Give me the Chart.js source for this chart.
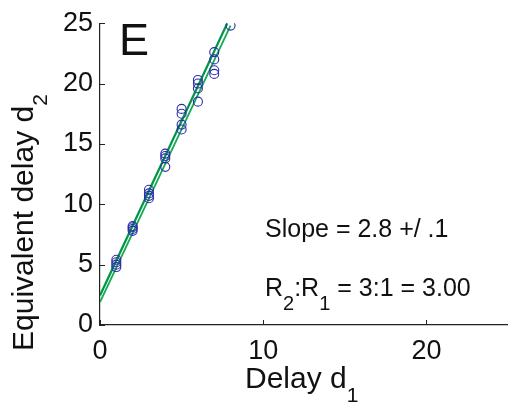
<!DOCTYPE html>
<html>
<head>
<meta charset="utf-8">
<script src="https://cdn.jsdelivr.net/npm/chart.js@4.4.1/dist/chart.umd.min.js"></script>
<style>
  html, body { margin: 0; padding: 0; background: #fff; }
  #wrap { width: 508px; height: 404px; }
</style>
</head>
<body>
<div id="wrap"><canvas id="chart"></canvas></div>
<script>
// measured points (delay d1 -> equivalent delay d2)
const delayD1 = [1, 1, 1, 1, 2, 2, 2, 2, 3, 3, 3, 3, 4, 4, 4, 4, 5, 5, 5, 5, 6, 6, 6, 6, 7, 7, 7, 7, 8];
const equivD2 = [4.8, 5.0, 5.2, 5.4, 7.8, 7.95, 8.1, 8.2, 10.5, 10.7, 10.9, 11.2, 13.1, 13.8, 14.0, 14.2,
  16.2, 16.6, 17.5, 17.9, 18.5, 19.6, 20.0, 20.3, 20.8, 21.1, 22.0, 22.6, 24.8];

// fitted lines (endpoints)
const fitAx = [0, 7.8];
const fitAy = [2.45, 25];
const fitBx = [0, 8.0];
const fitBy = [1.9, 24.8];

const xTicks = [0, 10, 20];
const yTicks = [0, 5, 10, 15, 20, 25];

const FONT = "'Liberation Sans', Arial, Helvetica, sans-serif";
const INK = "#222";

const toPts = (xs, ys) => xs.map((x, i) => ({ x: x, y: ys[i] }));

// text with subscript pieces: [[text, isSub], ...]
function drawSubText(ctx, parts, x, y, size, subSize, subDrop) {
  let cx = x;
  parts.forEach(([t, sub]) => {
    ctx.font = (sub ? subSize : size) + "px " + FONT;
    ctx.fillText(t, cx, sub ? y + subDrop : y);
    cx += ctx.measureText(t).width;
  });
}

const annotPlugin = {
  id: "annot",
  afterDraw(chart) {
    const ctx = chart.ctx;
    const xs = chart.scales.x;
    const ys = chart.scales.y;
    ctx.save();
    ctx.strokeStyle = INK;
    ctx.lineWidth = 1;
    // inward tick marks
    xTicks.forEach((v) => {
      const px = Math.round(xs.getPixelForValue(v)) + 0.5;
      ctx.beginPath();
      ctx.moveTo(px, ys.bottom);
      ctx.lineTo(px, ys.bottom - 5);
      ctx.stroke();
    });
    yTicks.forEach((v) => {
      const py = Math.round(ys.getPixelForValue(v)) + 0.5;
      ctx.beginPath();
      ctx.moveTo(xs.left, py);
      ctx.lineTo(xs.left + 5, py);
      ctx.stroke();
    });

    ctx.fillStyle = "#111";
    ctx.textBaseline = "alphabetic";
    ctx.textAlign = "left";

    // panel letter
    ctx.font = "45px " + FONT;
    ctx.fillText("E", 119, 55);

    drawSubText(ctx, [["Slope = 2.8 +/ .1", false]], 265, 237, 25, 20, 0);
    drawSubText(ctx, [["R", false], ["2", true], [":R", false], ["1", true], [" = 3:1 = 3.00", false]],
      265, 296, 25, 20, 14);

    // x title
    drawSubText(ctx, [["Delay d", false], ["1", true]], 245, 388, 30, 21, 14);

    // y title, rotated
    ctx.translate(33, 351);
    ctx.rotate(-Math.PI / 2);
    drawSubText(ctx, [["Equivalent delay d", false], ["2", true]], 0, 0, 30, 21, 14);
    ctx.restore();
  }
};

new Chart(document.getElementById("chart"), {
  type: "scatter",
  data: {
    datasets: [
      {
        label: "fit A",
        data: toPts(fitAx, fitAy),
        showLine: true,
        borderColor: "rgb(0, 150, 70)",
        borderWidth: 2.2,
        pointRadius: 0,
        order: 1
      },
      {
        label: "fit B",
        data: toPts(fitBx, fitBy),
        showLine: true,
        borderColor: "rgb(20, 170, 85)",
        borderWidth: 1.8,
        pointRadius: 0,
        order: 2
      },
      {
        label: "data",
        data: toPts(delayD1, equivD2),
        pointStyle: "circle",
        pointRadius: 4.5,
        pointBorderWidth: 1.1,
        borderColor: "rgb(45, 45, 170)",
        backgroundColor: "rgba(0,0,0,0)",
        order: 0
      }
    ]
  },
  options: {
    responsive: true,
    maintainAspectRatio: false,
    animation: false,
    layout: { autoPadding: false, padding: { top: 21, right: 0, left: 0, bottom: 0 } },
    plugins: {
      legend: { display: false },
      tooltip: { enabled: false }
    },
    scales: {
      x: {
        type: "linear",
        min: 0,
        max: 25,
        afterFit(scale) {
          scale.height = 79;
          scale.paddingLeft = 0;
          scale.paddingRight = 0;
        },
        afterBuildTicks(scale) { scale.ticks = xTicks.map((v) => ({ value: v })); },
        grid: { display: false, drawTicks: false },
        border: { display: true, color: INK, width: 1.2 },
        ticks: {
          padding: 10,
          color: "#111",
          font: { family: FONT, size: 27 }
        }
      },
      y: {
        type: "linear",
        min: 0,
        max: 25,
        afterFit(scale) { scale.width = 100; },
        afterBuildTicks(scale) { scale.ticks = yTicks.map((v) => ({ value: v })); },
        grid: { display: false, drawTicks: false },
        border: { display: true, color: INK, width: 1.2 },
        ticks: {
          padding: 7,
          color: "#111",
          font: { family: FONT, size: 27 }
        }
      }
    }
  },
  plugins: [annotPlugin]
});
</script>
</body>
</html>
